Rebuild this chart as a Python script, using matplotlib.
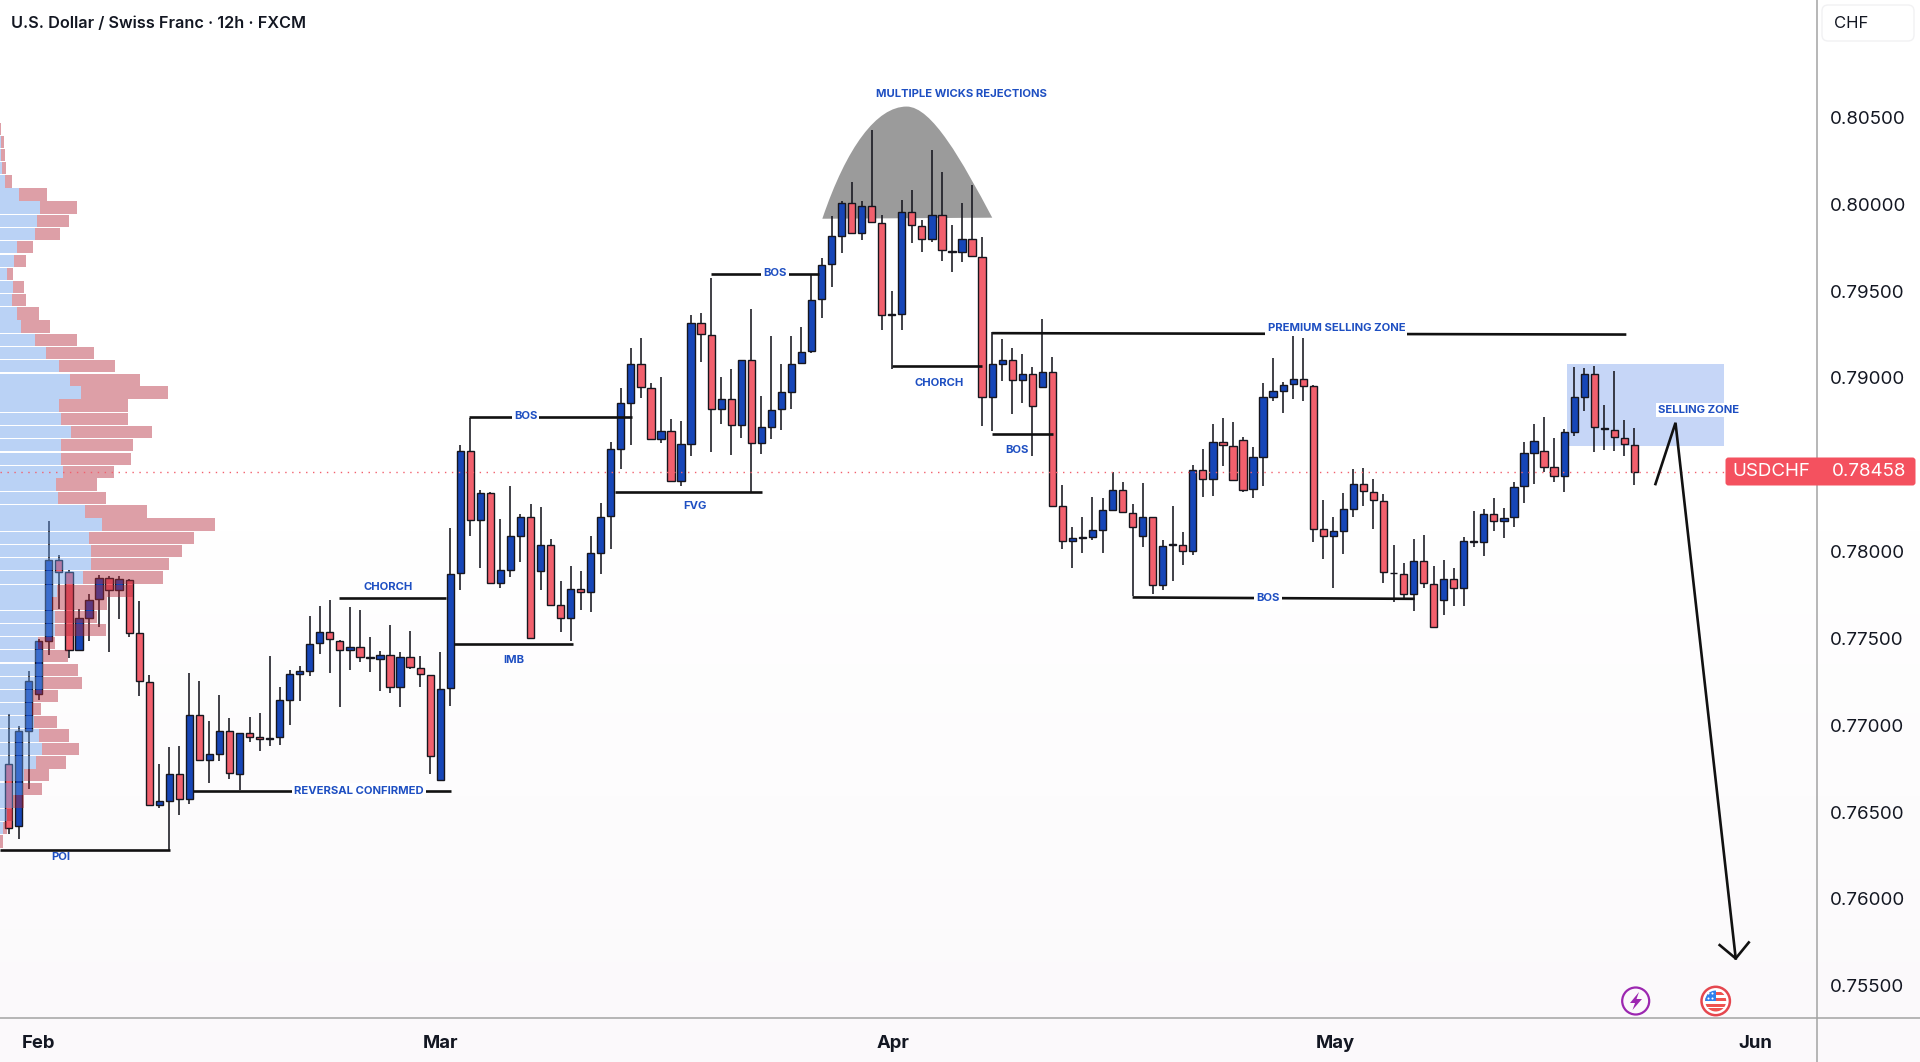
import numpy as np
import matplotlib
matplotlib.use("Agg")
import matplotlib.pyplot as plt
from matplotlib.lines import Line2D
from matplotlib.patches import Circle, FancyBboxPatch, PathPatch, Polygon, Rectangle
from matplotlib.path import Path

plt.rcParams['font.family'] = ['Inter', 'DejaVu Sans']

# --- OHLC, prices in 1e-5 CHF ---
opens = [76775,76417,76967,77182,77486,77950,77884,77434,77620,77726,
 77850,77778,77838,77529,77248,76540,76566,76718,76574,77059,
 76801,76835,76964,76720,76953,76935,76918,76930,77147,77296,
 77314,77471,77537,77486,77431,77448,77388,77383,77403,77222,
 77391,77331,77288,76683,77213,77875,78579,78180,78338,77820,
 77896,78091,78202,77886,78038,77690,77620,77787,77768,77993,
 78204,78593,78857,79079,78945,78651,78692,78404,78622,79315,
 79247,78820,78877,78729,79106,78626,78717,78820,78922,79085,
 79155,79455,79655,79820,80010,79834,79990,79891,79362,79368,
 79954,79875,79800,79939,79734,79724,79802,79699,78888,79082,
 79102,78987,79020,78949,79034,78261,78059,78081,78083,78122,
 78239,78352,78221,78087,78198,77807,78039,78037,78005,78471,
 78416,78629,78611,78642,78358,78546,78892,78924,78963,78992,
 78953,78131,78091,78120,78247,78387,78343,78293,77874,77872,
 77757,77947,77815,77721,77840,77788,78053,78053,78218,78178,
 78197,78375,78569,78579,78485,78437,78688,78892,79022,78706,
 78700,78654,78615]
closes = [76411,76967,77254,77483,77950,77884,77434,77620,77721,77850,
 77778,77841,77534,77254,76540,76563,76718,76574,77059,76801,
 76832,76964,76723,76953,76935,76918,76927,77145,77294,77314,
 77468,77537,77494,77431,77448,77391,77391,77403,77222,77391,
 77337,77294,76821,77210,77870,78579,78180,78340,77820,77892,
 78087,78202,77503,78038,77694,77620,77787,77768,77991,78202,
 78591,78855,79079,78949,78651,78692,78404,78618,79315,79252,
 78820,78877,78727,79106,78626,78715,78813,78920,79083,79151,
 79451,79653,79818,80010,79834,79990,79897,79362,79366,79954,
 79879,79800,79939,79738,79724,79802,79701,78888,79078,79104,
 78987,79020,78836,79034,78265,78061,78081,78085,78122,78237,
 78352,78227,78142,78198,77807,78035,78043,78005,78471,78416,
 78632,78613,78412,78354,78544,78890,78923,78959,78992,78953,
 78133,78091,78116,78245,78387,78348,78295,77884,77878,77757,
 77947,77820,77565,77840,77788,78060,78060,78218,78178,78195,
 78371,78567,78635,78489,78437,78686,78890,79022,78715,78711,
 78658,78617,78460]
highs = [77062,76996,77311,77497,78174,77979,77893,77672,77755,77864,
 77858,77858,77844,77715,77291,76775,76875,76881,77299,77254,
 77024,77176,77039,76953,77047,77070,77397,77219,77317,77339,
 77629,77689,77721,77491,77680,77663,77506,77425,77580,77420,
 77543,77400,77291,77420,78136,78612,78770,78353,78342,78188,
 78379,78215,78274,78256,78071,77830,77917,77890,78087,78279,
 78632,78945,79171,79231,78972,79003,78766,78750,79361,79377,
 79577,79005,79052,79106,79398,78894,79243,79083,79243,79291,
 79593,79693,79933,80022,80129,80022,80426,79937,79498,80026,
 80085,79909,80311,80187,79879,80008,80111,79814,79262,79225,
 79173,79136,79062,79338,79120,78386,78142,78198,78313,78307,
 78461,78402,78273,78396,78200,78069,78261,78112,78501,78590,
 78733,78767,78746,78658,78600,78969,79113,78974,79247,79228,
 78961,78300,78201,78335,78473,78479,78421,78329,78037,77932,
 78072,78093,77916,77953,77903,78085,78235,78247,78310,78251,
 78402,78631,78732,78773,78652,78704,79061,79055,79068,78844,
 79042,78757,78709]
lows = [76374,76345,76632,77147,77405,77672,77385,77434,77486,77563,
 77420,77612,77506,77170,76537,76523,76279,76485,76546,76801,
 76669,76795,76692,76626,76901,76849,76881,76887,77001,77142,
 77285,77411,77302,77107,77317,77362,77305,77199,77188,77107,
 77322,77222,76718,76683,77113,77779,78091,77906,77820,77793,
 77855,77941,77503,77779,77694,77536,77483,77664,77655,77869,
 78013,78476,78616,78887,78651,78626,78404,78375,78548,79093,
 78575,78735,78554,78657,78338,78560,78647,78702,78824,79085,
 79145,79348,79526,79719,79834,79794,79897,79278,79054,79278,
 79778,79728,79784,79671,79611,79669,79701,78723,78697,78985,
 78792,78856,78549,78949,78265,78015,77904,77991,78069,77991,
 78239,78227,77745,78027,77757,77781,77829,77920,77979,78317,
 78323,78494,78412,78345,78308,78379,78867,78796,78876,78869,
 78057,77959,77792,77987,78199,78264,78131,77820,77711,77730,
 77659,77788,77565,77636,77686,77688,78028,77976,78120,78080,
 78143,78281,78387,78460,78402,78345,78665,78811,78573,78588,
 78581,78552,78385]

# --- Volume profile ---
vp_price = [80432,80360,80283,80208,80131,80056,79982,79905,79830,79753,
 79675,79598,79523,79449,79372,79297,79220,79142,79068,78990,
 78916,78841,78764,78687,78612,78535,78460,78386,78308,78231,
 78156,78079,78004,77927,77850,77775,77701,77623,77549,77474,
 77397,77319,77245,77170,77093,77018,76941,76864,76786,76712,
 76634,76560,76483,76408,76331]
vp_buy = [0,3,3,6,16,57,120,111,106,51,
 42,20,38,36,52,63,106,139,178,211,
 244,178,184,213,182,184,188,168,174,256,
 305,268,272,274,249,170,155,165,165,115,
 130,130,130,100,95,103,117,127,107,72,
 68,40,20,10,0]
vp_total = [2,12,16,18,37,141,231,207,180,100,
 78,38,72,78,118,149,231,282,344,420,
 504,385,385,456,399,393,342,292,317,442,
 645,583,547,507,489,400,322,290,319,165,
 205,235,247,175,122,171,207,238,198,147,
 125,71,38,22,8]

yticks = [0.805, 0.80, 0.795, 0.79, 0.78, 0.775, 0.77, 0.765, 0.76, 0.755]
month_pos = [2.92, 42.98, 88.1, 132.2, 174.1]
month_lab = ['Feb', 'Mar', 'Apr', 'May', 'Jun']
last_price = 0.78458

BLUE, RED, INK = '#1646B8', '#F2606D', '#16161E'
LABEL = '#1E4FC2'

W, H = 1920, 1062
fig = plt.figure(figsize=(W/100, H/100), dpi=100, facecolor='white')

bg = fig.add_axes([0, 0, 1, 1], zorder=-1)
bg.imshow(np.linspace(0, 1, 64).reshape(-1, 1), aspect='auto',
          cmap=matplotlib.colors.LinearSegmentedColormap.from_list('g', ['#FFFFFF', '#FFFFFF', '#FBF9FB']))
bg.axis('off')

ax = fig.add_axes([0, (H-1018)/H, 1817/W, 1018/H])
ax.patch.set_visible(False)
ax.set_xlim(-0.867, 180.2)
ax.set_ylim(0.75314, 0.811767)

o, c = np.array(opens)/1e5, np.array(closes)/1e5
hi, lo = np.array(highs)/1e5, np.array(lows)/1e5
x = np.arange(len(o))
up = c >= o

# selling zone and dome under candles
ax.add_patch(Rectangle((155.3, 0.78611), 170.9-155.3, 0.79080-0.78611, fc='#C6D6F7', ec='none', zorder=1))
dome = Path([(81.08, .79917), (83.5, .80330), (86.5, .80563), (89.48, .80563),
             (92.0, .80563), (95.0, .80250), (98.01, .79923), (81.08, .79917)],
            [Path.MOVETO, Path.CURVE4, Path.CURVE4, Path.CURVE4, Path.CURVE4, Path.CURVE4, Path.CURVE4, Path.CLOSEPOLY])
ax.add_patch(PathPatch(dome, fc='#9B9B9B', ec='none', zorder=1))

ax.vlines(x, lo, hi, color=INK, lw=1.15, zorder=2)
ax.bar(x, np.abs(c-o), bottom=np.minimum(o, c), width=0.72,
       color=[BLUE if u else RED for u in up], edgecolor=INK, linewidth=1.0, zorder=3)

# volume profile over candles
vscale = 1/30.1
buy = np.array(vp_buy)*vscale
sell = (np.array(vp_total)-np.array(vp_buy))*vscale
left = ax.get_xlim()[0]
rows = np.array(vp_price)/1e5
ax.barh(rows, buy, left=left, height=0.00071, color='#679DEB', alpha=0.45, lw=0, zorder=4)
ax.barh(rows, sell, left=left+buy, height=0.00071, color='#B42A3C', alpha=0.45, lw=0, zorder=4)

# current price
ax.axhline(last_price, color=RED, lw=1.0, ls=(0, (1, 4)), zorder=5)

# annotation lines
segs = [(-0.87, 16.07, .76279, .76279), (18.4, 44.1, .76623, .76623), (32.9, 43.6, .77732, .77732),
        (44.4, 56.2, .77468, .77468), (45.9, 62.1, .78774, .78774), (60.4, 75.1, .78342, .78342),
        (69.96, 80.7, .79597, .79597), (88.0, 97.0, .79068, .79068), (98.0, 161.2, .79258, .79250),
        (97.98, 104.1, .78677, .78677), (112.0, 140.1, .77736, .77728)]
for a, b, p, q in segs:
    ax.plot([a, b], [p, q], color='#111111', lw=1.9, solid_capstyle='butt', zorder=6)
ax.plot([164.1, 166.1, 172.1], [.78389, .78742, .75657], color='#111111', lw=1.9, zorder=6, solid_joinstyle='miter')
ax.plot([170.5, 172.1, 173.4], [.75734, .75657, .75749], color='#111111', lw=1.9, zorder=6)

labels = [('POI', 5.2, .76242, False), ('REVERSAL CONFIRMED', 34.9, .76623, True), ('CHORCH', 37.8, .77798, False),
          ('IMB', 50.3, .77376, False), ('BOS', 51.5, .78780, True), ('FVG', 68.4, .78264, False),
          ('BOS', 76.4, .79603, True), ('CHORCH', 92.7, .78971, False), ('MULTIPLE WICKS REJECTIONS', 94.97, .80637, False),
          ('PREMIUM SELLING ZONE', 132.3, .79285, True), ('BOS', 100.5, .78586, False), ('BOS', 125.5, .77730, True),
          ('SELLING ZONE', 168.4, .78815, True)]
for t, lx, ly, box in labels:
    ax.text(lx, ly, t, color=LABEL, fontsize=8.1, fontweight='bold', ha='center', va='center', zorder=7,
            bbox=dict(fc='white', ec='none', pad=1.6) if box else None)

for s in ax.spines.values():
    s.set_visible(False)
ax.yaxis.tick_right()
ax.set_yticks(yticks)
ax.set_yticklabels([f'{v:.5f}' for v in yticks], fontsize=13.5, color='#131722')
ax.tick_params(axis='y', length=0, pad=9.2)
ax.set_xticks(month_pos)
ax.set_xticklabels(month_lab, fontsize=13.3, fontweight='bold', color='#131722')
ax.tick_params(axis='x', length=0, pad=12)

fig.add_artist(Line2D([0, 1], [(H-1018)/H]*2, color='#A3A3A3', lw=1.1))
fig.add_artist(Line2D([1817/W]*2, [0, 1], color='#A3A3A3', lw=1.1))

ov = fig.add_axes([0, 0, 1, 1], zorder=5)
ov.set_xlim(0, W); ov.set_ylim(H, 0); ov.axis('off'); ov.patch.set_visible(False)
ov.text(11, 23, 'U.S. Dollar / Swiss Franc · 12h · FXCM', fontsize=11.7, fontweight='semibold', color='#131722', va='center')
ov.add_patch(FancyBboxPatch((1822, 5), 92, 36, boxstyle='round,pad=0,rounding_size=6', fc='white', ec='#F1F1F3', lw=1))
ov.text(1834, 24, 'CHF', fontsize=12, color='#131722', va='center')
ov.add_patch(FancyBboxPatch((1725.5, 457.5), 190, 28, boxstyle='round,pad=0,rounding_size=3', fc='#F4515F', ec='none'))
ov.text(1771, 472, 'USDCHF', fontsize=13.5, color='white', ha='center', va='center')
ov.text(1869, 472, f'{last_price:.5f}', fontsize=13.5, color='white', ha='center', va='center')

# event icons
ov.add_patch(Circle((1635.7, 1001), 13.5, fc='none', ec='#9C27B0', lw=1.6))
ov.add_patch(Polygon([(1639, 992), (1630, 1003), (1635, 1003), (1632.5, 1010), (1642, 999), (1636.5, 999)], fc='#9C27B0', ec='none'))
ring = Circle((1715.7, 1001), 14.2, fc='white', ec='#E5474F', lw=1.8)
ov.add_patch(ring)
inner = Circle((1715.7, 1001), 10.5, transform=ov.transData)
for yy, hh in [(992, 3), (998, 3), (1004, 2.5), (1008, 5)]:
    r = Rectangle((1704, yy), 24, hh, fc='#EF5350', ec='none'); ov.add_patch(r); r.set_clip_path(inner)
r = Rectangle((1704, 990), 12, 11, fc='#2F80ED', ec='none'); ov.add_patch(r); r.set_clip_path(inner)
ov.scatter([1708, 1712, 1708, 1712], [993, 993, 997.5, 997.5], s=2.2, c='white', linewidths=0)

fig.savefig('out.png', dpi=100)
